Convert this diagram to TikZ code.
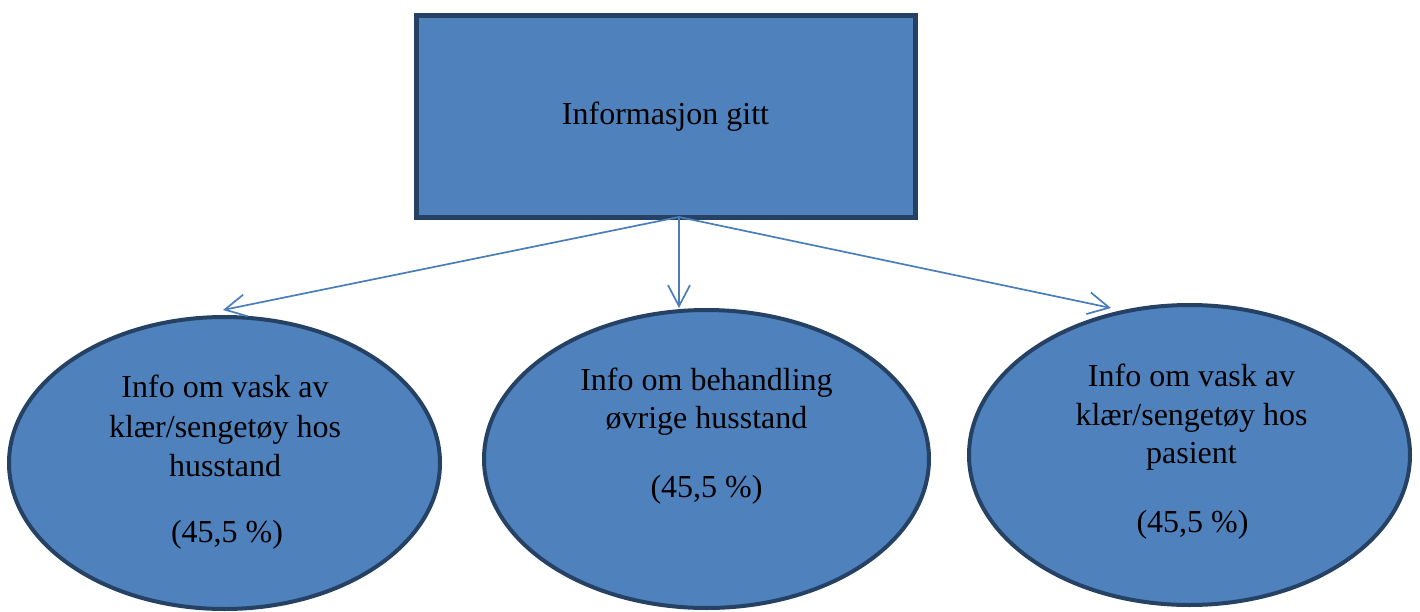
\documentclass[tikz,border=0pt]{standalone}
\usepackage{fontspec}
\setmainfont{Liberation Serif}
\usetikzlibrary{arrows.meta,shapes.geometric}
\definecolor{boxfill}{HTML}{4F81BD}
\definecolor{boxline}{HTML}{254163}
\definecolor{arrowblue}{HTML}{4A7EBB}
\tikzset{
  topbox/.style={draw=boxline, fill=boxfill, line width=2.5pt,
    minimum width=249.5pt, minimum height=101pt, inner sep=0pt, outer sep=0pt,
    font=\fontsize{16}{19.5}\selectfont},
  oval/.style={ellipse, draw=boxline, fill=boxfill, line width=2pt,
    inner sep=0pt, outer sep=0pt},
  txt/.style={anchor=base, inner sep=0pt, font=\fontsize{16}{19.5}\selectfont},
  link/.style={draw=arrowblue, line width=0.85pt,
    -{Straight Barb[length=10.5pt, width=11pt, line width=0.85pt]}}
}
\begin{document}
\begin{tikzpicture}[x=0.5pt, y=-0.5pt]
\useasboundingbox (0,0) rectangle (1420,611);

% top box
\node[topbox] (info) at (665.5,116.5) {Informasjon gitt};

% the three outcome ellipses
\node[oval, minimum width=215.5pt, minimum height=146pt] (left)  at (224.5,463) {};
\node[oval, minimum width=222.5pt, minimum height=149pt] (mid)   at (706.5,459) {};
\node[oval, minimum width=220.5pt, minimum height=150pt] (right) at (1189.5,455) {};

% texts inside the ellipses
\node[txt] (l1) at (225,397) {Info om vask av};
\node[txt] (l2) at (225,437) {klær/sengetøy hos};
\node[txt] (l3) at (225,476) {husstand};
\node[txt] (l4) at (227,542) {(45,5 \%)};

\node[txt] (m1) at (706.5,390) {Info om behandling};
\node[txt] (m2) at (706.5,428) {øvrige husstand};
\node[txt] (m3) at (706.5,497) {(45,5 \%)};

\node[txt] (r1) at (1191.5,386) {Info om vask av};
\node[txt] (r2) at (1191.5,425) {klær/sengetøy hos};
\node[txt] (r3) at (1191.5,463) {pasient};
\node[txt] (r4) at (1192.5,532) {(45,5 \%)};

% connectors
\coordinate (src) at (679,217);
\coordinate (tl) at (223,310);
\coordinate (tm) at (679,308);
\coordinate (tr) at (1111,308);
\draw[link] (src) -- (tl);
\draw[link] (src) -- (tm);
\draw[link] (src) -- (tr);
\end{tikzpicture}
\end{document}
